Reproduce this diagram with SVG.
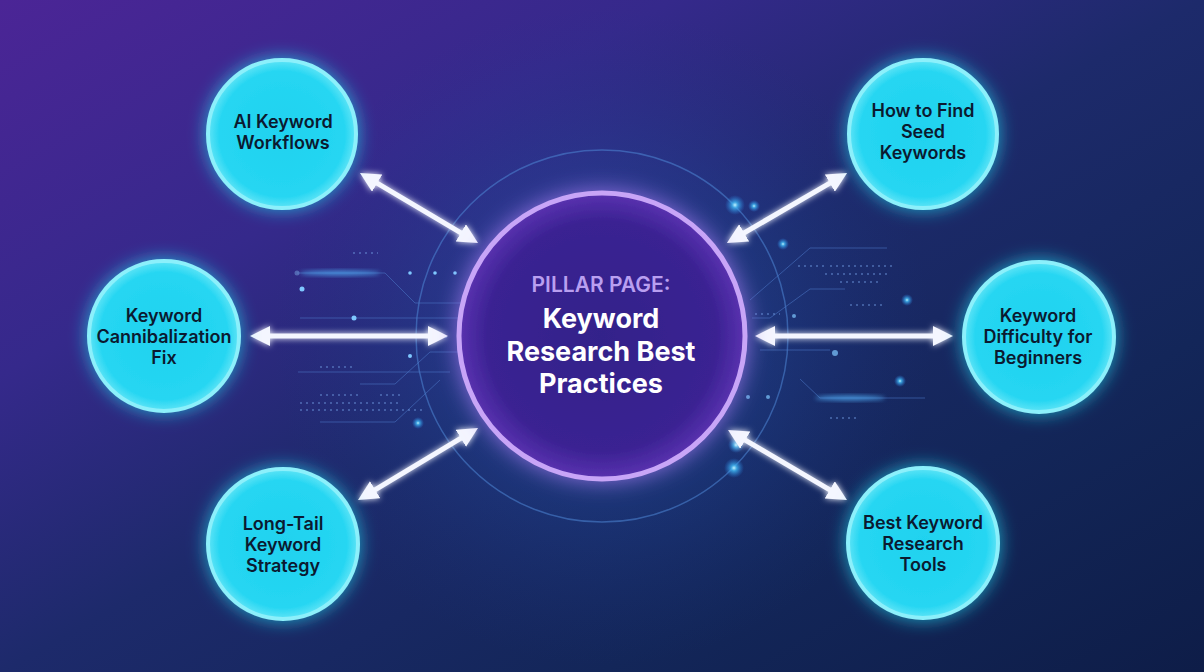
<svg xmlns="http://www.w3.org/2000/svg" width="1204" height="672" viewBox="0 0 1204 672">
  <defs>
    <linearGradient id="bg" x1="0" y1="0" x2="572" y2="1024" gradientUnits="userSpaceOnUse">
      <stop offset="0" stop-color="#4b2596"/>
      <stop offset="0.28" stop-color="#35298b"/>
      <stop offset="0.5" stop-color="#1d2a6b"/>
      <stop offset="0.75" stop-color="#132659"/>
      <stop offset="1" stop-color="#0e1d48"/>
    </linearGradient>
    <radialGradient id="centerGlow" cx="602" cy="336" r="330" gradientUnits="userSpaceOnUse">
      <stop offset="0" stop-color="#2f6fd0" stop-opacity="0.55"/>
      <stop offset="0.5" stop-color="#2456b0" stop-opacity="0.25"/>
      <stop offset="1" stop-color="#1a3a8a" stop-opacity="0"/>
    </radialGradient>
    <radialGradient id="pillarFill" cx="0.5" cy="0.5" r="0.5">
      <stop offset="0" stop-color="#33208a"/>
      <stop offset="0.8" stop-color="#3a2292"/>
      <stop offset="1" stop-color="#5a32b0"/>
    </radialGradient>
    <radialGradient id="cyanFill" cx="0.5" cy="0.5" r="0.5">
      <stop offset="0" stop-color="#1fd2ef"/>
      <stop offset="0.85" stop-color="#26d6f2"/>
      <stop offset="1" stop-color="#5fe4f6"/>
    </radialGradient>
    <radialGradient id="spark" cx="0.5" cy="0.5" r="0.5">
      <stop offset="0" stop-color="#bff3ff"/>
      <stop offset="0.3" stop-color="#3fb8f5" stop-opacity="0.8"/>
      <stop offset="1" stop-color="#2a7de0" stop-opacity="0"/>
    </radialGradient>
    <filter id="cyanGlow" x="-40%" y="-40%" width="180%" height="180%">
      <feGaussianBlur in="SourceAlpha" stdDeviation="9" result="b"/>
      <feFlood flood-color="#22d3ee" flood-opacity="0.75"/>
      <feComposite in2="b" operator="in" result="g"/>
      <feMerge><feMergeNode in="g"/><feMergeNode in="SourceGraphic"/></feMerge>
    </filter>
    <filter id="purpleGlow" x="-30%" y="-30%" width="160%" height="160%">
      <feGaussianBlur in="SourceAlpha" stdDeviation="11" result="b"/>
      <feFlood flood-color="#a77bf2" flood-opacity="0.8"/>
      <feComposite in2="b" operator="in" result="g"/>
      <feMerge><feMergeNode in="g"/><feMergeNode in="SourceGraphic"/></feMerge>
    </filter>
    <filter id="arrowGlow" x="-20%" y="-20%" width="140%" height="140%">
      <feGaussianBlur in="SourceGraphic" stdDeviation="3" result="b"/>
      <feMerge><feMergeNode in="b"/><feMergeNode in="SourceGraphic"/></feMerge>
    </filter>
    <filter id="soft" x="-50%" y="-50%" width="200%" height="200%">
      <feGaussianBlur stdDeviation="2"/>
    </filter>
    <marker id="head" viewBox="0 0 20 20" refX="6" refY="10" markerWidth="20" markerHeight="20" markerUnits="userSpaceOnUse" orient="auto-start-reverse">
      <path d="M0,0 L20,10 L0,20 Z" fill="#f4f6ff"/>
    </marker>
    <style>
      .sat { fill: url(#cyanFill); stroke: #8cf0fb; stroke-width: 4; }
      .satText { font-family: Inter, "Liberation Sans", sans-serif; font-weight: 600; font-size: 18px; fill: #0b1a30; text-anchor: middle; }
      .pillText { font-family: Inter, "Liberation Sans", sans-serif; font-weight: 700; font-size: 27px; fill: #ffffff; text-anchor: middle; }
      .pillLabel { font-family: Inter, "Liberation Sans", sans-serif; font-weight: 600; font-size: 21px; fill: #b99ff0; text-anchor: middle; }
      .conn { stroke: #f4f6ff; stroke-width: 5; fill: none; marker-start: url(#head); marker-end: url(#head); }
      .circuit { stroke: #4d78c8; stroke-width: 1; fill: none; opacity: 0.55; }
      .dots { stroke: #6f9ae0; stroke-width: 1.5; stroke-dasharray: 2 4; fill: none; opacity: 0.6; }
    </style>
  </defs>

  <!-- background -->
  <rect width="1204" height="672" fill="url(#bg)"/>
  <rect width="1204" height="672" fill="url(#centerGlow)"/>

  <!-- decorative circuitry -->
  <g id="decor">
    <circle cx="602" cy="336" r="186" fill="none" stroke="#4f86d6" stroke-width="1.5" opacity="0.55"/>
    <path class="circuit" d="M297,273 H385 L415,303 H470"/>
    <ellipse cx="340" cy="273" rx="40" ry="2.5" fill="#4fa8f0" opacity="0.8" filter="url(#soft)"/>
    <circle cx="297" cy="273" r="2.5" fill="#6a8fd0" opacity="0.6"/>
    <path class="circuit" d="M300,318 H460"/>
    <path class="dots" d="M353,253 H378"/>
    <path class="dots" d="M320,367 H355"/>
    <path class="circuit" d="M298,372 H450"/>
    <path class="circuit" d="M360,384 H395 L430,352 H470"/>
    <path class="circuit" d="M320,422 H395 L440,380"/>
    <path class="dots" d="M320,395 H360 M380,395 H400 M300,403 H400 M300,410 H425"/>
    <path class="dots" d="M415,337 H450"/>
    <circle cx="302" cy="289" r="2.5" fill="#7fc8ff"/>
    <circle cx="354" cy="318" r="2.5" fill="#7fc8ff"/>
    <circle cx="410" cy="273" r="1.8" fill="#7fc8ff"/>
    <circle cx="435" cy="273" r="1.8" fill="#7fc8ff"/>
    <circle cx="455" cy="273" r="1.8" fill="#7fc8ff"/>
    <circle cx="410" cy="356" r="2" fill="#7fc8ff"/>
    <circle cx="418" cy="423" r="6" fill="url(#spark)"/>

    <path class="circuit" d="M750,300 L810,248 H887"/>
    <path class="circuit" d="M752,318 H770 L810,289 H845"/>
    <path class="circuit" d="M760,350 H830"/>
    <path class="circuit" d="M800,379 L820,398 H925"/>
    <path class="dots" d="M798,266 H825 M830,266 H895 M825,274 H890 M840,282 H880"/>
    <path class="dots" d="M850,305 H885"/>
    <path class="dots" d="M755,314 H780"/>
    <path class="dots" d="M830,418 H860"/>
    <ellipse cx="850" cy="398" rx="35" ry="2.5" fill="#4fa8f0" opacity="0.8" filter="url(#soft)"/>
    <circle cx="907" cy="300" r="6" fill="url(#spark)"/>
    <circle cx="900" cy="381" r="6" fill="url(#spark)"/>
    <circle cx="783" cy="244" r="6" fill="url(#spark)"/>
    <circle cx="835" cy="353" r="3" fill="#7fc8ff" opacity="0.7"/>
    <circle cx="794" cy="316" r="2" fill="#7fc8ff" opacity="0.7"/>
    <circle cx="748" cy="397" r="2" fill="#7fc8ff" opacity="0.7"/>
    <circle cx="768" cy="397" r="2" fill="#7fc8ff" opacity="0.7"/>
    <circle cx="735" cy="205" r="10" fill="url(#spark)"/>
    <circle cx="754" cy="206" r="6" fill="url(#spark)"/>
    <circle cx="734" cy="468" r="10" fill="url(#spark)"/>
    <circle cx="736" cy="445" r="8" fill="url(#spark)"/>
    <circle cx="590" cy="232" r="1.5" fill="#7fc8ff"/>
  </g>

  <!-- connectors -->
  <g id="connectors" filter="url(#arrowGlow)">
    <line class="conn" x1="372.0" y1="180.1" x2="466.0" y2="235.9"/>
    <line class="conn" x1="835.0" y1="180.1" x2="739.0" y2="235.9"/>
    <line class="conn" x1="264" y1="336" x2="434" y2="336"/>
    <line class="conn" x1="769" y1="336" x2="939" y2="336"/>
    <line class="conn" x1="370.0" y1="492.8" x2="466.0" y2="435.2"/>
    <line class="conn" x1="740.1" y1="437.1" x2="834.9" y2="492.9"/>
  </g>

  <!-- pillar -->
  <g id="pillar">
    <circle cx="602" cy="336" r="143" fill="url(#pillarFill)" stroke="#c8a5f7" stroke-width="5" filter="url(#purpleGlow)"/>
    <text class="pillLabel" x="601" y="292">PILLAR PAGE:</text>
    <text class="pillText" x="601" y="328">Keyword</text>
    <text class="pillText" x="601" y="361">Research Best</text>
    <text class="pillText" x="601" y="393">Practices</text>
  </g>

  <g id="node-ai">
    <circle class="sat" cx="282" cy="134" r="74" filter="url(#cyanGlow)"/>
    <text class="satText" x="283" y="128">AI Keyword</text>
    <text class="satText" x="283" y="149">Workflows</text>
  </g>

  <g id="node-seed">
    <circle class="sat" cx="923" cy="134" r="74" filter="url(#cyanGlow)"/>
    <text class="satText" x="923" y="117">How to Find</text>
    <text class="satText" x="923" y="138">Seed</text>
    <text class="satText" x="923" y="159">Keywords</text>
  </g>

  <g id="node-cannibal">
    <circle class="sat" cx="164" cy="336" r="75" filter="url(#cyanGlow)"/>
    <text class="satText" x="164" y="322">Keyword</text>
    <text class="satText" x="164" y="343">Cannibalization</text>
    <text class="satText" x="164" y="364">Fix</text>
  </g>

  <g id="node-difficulty">
    <circle class="sat" cx="1039" cy="337" r="75" filter="url(#cyanGlow)"/>
    <text class="satText" x="1038" y="322">Keyword</text>
    <text class="satText" x="1038" y="343">Difficulty for</text>
    <text class="satText" x="1038" y="364">Beginners</text>
  </g>

  <g id="node-longtail">
    <circle class="sat" cx="283" cy="544" r="75" filter="url(#cyanGlow)"/>
    <text class="satText" x="283" y="530">Long-Tail</text>
    <text class="satText" x="283" y="551">Keyword</text>
    <text class="satText" x="283" y="572">Strategy</text>
  </g>

  <g id="node-tools">
    <circle class="sat" cx="923" cy="543" r="75" filter="url(#cyanGlow)"/>
    <text class="satText" x="923" y="529">Best Keyword</text>
    <text class="satText" x="923" y="550">Research</text>
    <text class="satText" x="923" y="571">Tools</text>
  </g>
</svg>
